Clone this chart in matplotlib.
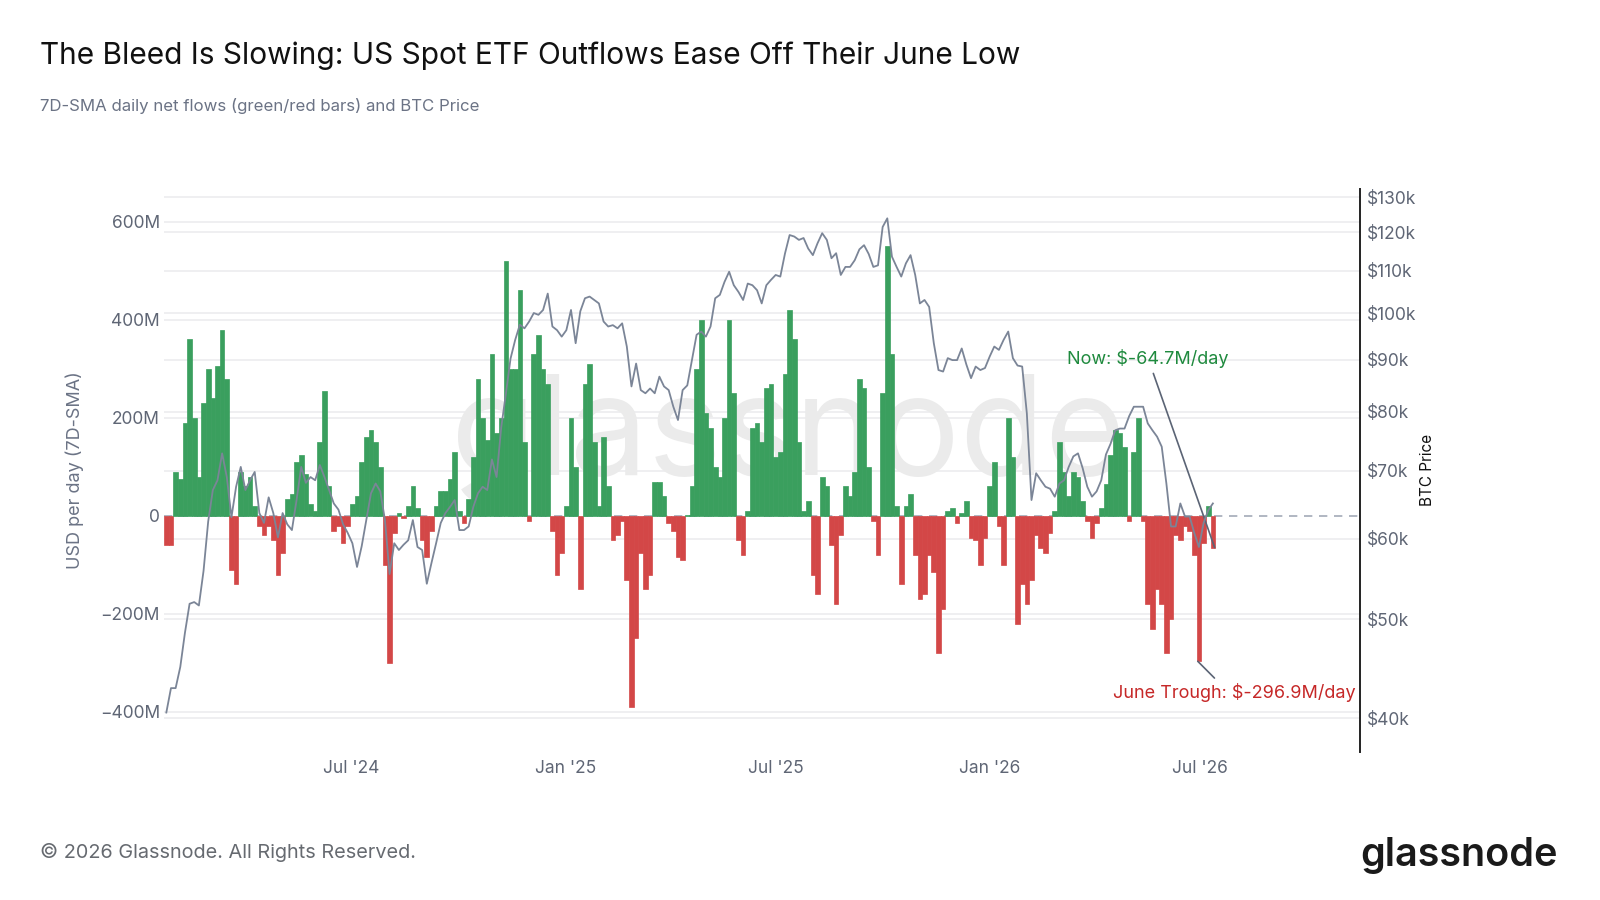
import matplotlib
matplotlib.use("Agg")
import matplotlib.pyplot as plt
import numpy as np
import pandas as pd
from matplotlib.lines import Line2D
from matplotlib.ticker import FixedLocator, NullLocator

# ---------------- data ----------------
START = "2024-01-22"
STEP_DAYS = 4

# 7D-SMA daily net flows, USD millions, one value per 4-day step
flows_m = [
    -60, -60, 90, 75, 190, 360, 200, 80, 230, 300, 240, 305, 380, 280, -110, -140,
    90, 60, 80, 20, -20, -40, -20, -50, -120, -75, 35, 45, 110, 125, 85, 25,
    10, 150, 255, 60, -30, -20, -55, -20, 25, 40, 110, 160, 175, 150, 100, -100,
    -300, -35, 5, -5, 20, 60, 15, -50, -85, -30, 20, 50, 50, 75, 130, 10,
    -15, 35, 120, 280, 200, 155, 330, 170, 200, 520, 300, 300, 460, 150, -10, 330,
    370, 300, 270, -30, -120, -75, 20, 200, 100, -150, 270, 310, 150, 20, 160, 60,
    -50, -40, -10, -130, -390, -250, -75, -150, -120, 70, 70, 40, -15, -30, -85, -90,
    2, 60, 300, 400, 210, 180, 100, 80, 200, 400, 250, -50, -80, 10, 180, 190,
    150, 260, 270, 120, 130, 290, 420, 360, 150, 10, 30, -120, -160, 80, 60, -60,
    -180, -40, 60, 40, 90, 280, 260, 100, -10, -80, 250, 550, 330, 20, -140, 20,
    45, -80, -170, -160, -80, -115, -280, -190, 10, 15, -15, 5, 30, -45, -50, -100,
    -45, 60, 110, -20, -100, 200, 120, -220, -140, -180, -130, -40, -65, -75, -35, 10,
    150, 90, 40, 90, 80, 30, -10, -45, -15, 15, 65, 125, 175, 170, 140, -10,
    130, 200, -10, -180, -230, -150, -180, -280, -210, -40, -50, -20, -30, -80, -296.9, -55,
    20, -64.7,
]

# BTC price, USD thousands, same 4-day steps
btc_price_k = [
    40.5, 42.8, 42.8, 44.9, 48.5, 51.8, 52.0, 51.6, 55.8, 62.4, 67.0, 68.5, 72.8, 69.0, 63.0, 67.5,
    70.6, 67.0, 68.5, 69.8, 63.6, 62.2, 65.9, 63.6, 60.2, 63.6, 62.0, 61.2, 65.5, 70.6, 68.1, 69.0,
    68.5, 70.9, 69.0, 67.0, 65.0, 64.1, 62.0, 60.8, 59.4, 56.3, 59.0, 62.6, 66.5, 68.0, 66.8, 62.6,
    55.4, 59.4, 58.5, 59.2, 59.8, 62.6, 58.9, 58.5, 54.2, 56.8, 59.4, 62.2, 63.6, 64.5, 65.5, 61.2,
    61.2, 61.7, 64.5, 66.5, 67.5, 67.0, 71.8, 69.0, 77.2, 83.3, 90.2, 94.1, 97.4, 96.6, 98.1, 100.0,
    99.6, 100.7, 104.5, 97.0, 96.2, 94.8, 96.2, 100.7, 93.4, 100.4, 103.4, 103.8, 103.0, 102.2, 98.1, 97.0,
    97.3, 96.6, 97.7, 92.7, 84.7, 89.2, 84.0, 83.4, 84.3, 83.4, 86.6, 84.7, 84.0, 80.9, 78.5, 84.0,
    84.9, 89.9, 95.2, 95.9, 94.8, 97.0, 103.4, 104.2, 107.3, 109.8, 106.5, 104.9, 103.0, 106.9, 106.5, 105.3,
    102.2, 106.5, 107.8, 109.0, 108.6, 114.4, 119.3, 118.9, 118.0, 118.5, 115.7, 114.0, 117.1, 119.8, 118.0, 113.2,
    114.5, 109.0, 111.0, 111.0, 112.7, 115.5, 116.6, 114.3, 111.0, 111.4, 121.5, 123.9, 113.6, 111.0, 108.6, 111.9,
    114.0, 109.0, 102.2, 103.0, 101.4, 93.4, 87.9, 87.6, 90.3, 89.9, 89.9, 92.3, 89.0, 86.3, 88.6, 87.9,
    88.3, 90.6, 92.7, 92.0, 94.1, 95.9, 90.3, 88.8, 88.6, 79.7, 65.5, 69.6, 68.5, 67.5, 67.2, 66.0,
    68.0, 68.5, 70.6, 72.3, 72.8, 70.4, 67.5, 66.0, 66.8, 68.5, 72.6, 74.4, 76.7, 77.0, 77.0, 79.2,
    80.9, 80.9, 80.9, 77.9, 76.7, 75.6, 73.9, 68.0, 61.7, 61.7, 65.0, 63.1, 63.1, 60.8, 58.9, 62.2,
    64.0, 65.0,
]

left_ticks = [-400, -200, 0, 200, 400, 600]
left_tick_labels = ["\u2212400M", "\u2212200M", "0", "200M", "400M", "600M"]
right_ticks = [40, 50, 60, 70, 80, 90, 100, 110, 120, 130]
right_tick_labels = ["$%dk" % p for p in right_ticks]
x_tick_dates = ["2024-07-01", "2025-01-01", "2025-07-01", "2026-01-01", "2026-07-01"]
x_tick_labels = ["Jul '24", "Jan '25", "Jul '25", "Jan '26", "Jul '26"]

now_label = "Now: $-64.7M/day"
trough_label = "June Trough: $-296.9M/day"
TROUGH_INDEX = 222

TITLE = "The Bleed Is Slowing: US Spot ETF Outflows Ease Off Their June Low"
SUBTITLE = "7D-SMA daily net flows (green/red bars) and BTC Price"
FOOTER = "\u00a9 2026 Glassnode. All Rights Reserved."

# ---------------- style ----------------
plt.rcParams["font.family"] = ["Inter", "DejaVu Sans"]
GREEN = "#3a9f5e"
RED = "#d34747"
PRICE = "#7b8597"
GRID = "#ebebee"
TICK = "#5f6675"

W, H = 1600, 900
fig = plt.figure(figsize=(16, 9), dpi=100)
fig.patch.set_facecolor("white")

L, R, T, B = 164, 1360, 189, 752
ax = fig.add_axes([L / W, 1 - B / H, (R - L) / W, (B - T) / H])
ax2 = ax.twinx()

dates = pd.date_range(START, periods=len(flows_m), freq=f"{STEP_DAYS}D")
flows = np.array(flows_m, dtype=float)
price = np.array(btc_price_k, dtype=float)

x_left = pd.Timestamp("2024-01-22")
x_right = pd.Timestamp("2026-11-15 12:00")
ax.set_xlim(x_left, x_right)
ax.set_ylim(-482, 667)
p_lo, p_hi = 37.04, 132.4
ax2.set_yscale("log")
ax2.set_ylim(p_lo, p_hi)

# grid lines (both axes) drawn behind the bars
for v in left_ticks:
    if v != 0:
        ax.axhline(v, color=GRID, lw=1.1, zorder=0)
for p in right_ticks:
    f = (np.log(p) - np.log(p_lo)) / (np.log(p_hi) - np.log(p_lo))
    ax.add_line(Line2D([0, 1], [f, f], transform=ax.transAxes, color=GRID, lw=1.1, zorder=0))
ax.axhline(0, color="#a3aab8", lw=1.2, ls=(0, (5, 4)), zorder=1)

# watermark
ax.text(0.522, 0.555, "glassnode", transform=ax.transAxes, fontsize=100,
        color="#ebebeb", ha="center", va="center", zorder=0.5)

# bars
colors = [GREEN if v >= 0 else RED for v in flows]
ax.bar(dates, flows, width=STEP_DAYS, align="edge", color=colors,
       edgecolor=colors, linewidth=0.5, zorder=3)

# price line
ax2.plot(dates + pd.Timedelta(days=STEP_DAYS / 2), price, color=PRICE, lw=1.3, zorder=4)

# axes cosmetics
for s in ax.spines.values():
    s.set_visible(False)
for name, s in ax2.spines.items():
    s.set_visible(name == "right")
ax2.spines["right"].set_color("#222222")
ax2.spines["right"].set_linewidth(1.4)

ax.yaxis.set_major_locator(FixedLocator(left_ticks))
ax.set_yticklabels(left_tick_labels)
ax.tick_params(axis="y", length=0, pad=3, labelsize=12.5, labelcolor=TICK)

ax2.yaxis.set_major_locator(FixedLocator(right_ticks))
ax2.yaxis.set_minor_locator(NullLocator())
ax2.set_yticklabels(right_tick_labels)
ax2.tick_params(axis="y", length=0, pad=5, labelsize=12.5, labelcolor=TICK)

ax.set_xticks(pd.to_datetime(x_tick_dates))
ax.set_xticklabels(x_tick_labels)
ax.tick_params(axis="x", length=0, pad=6, labelsize=12.5, labelcolor=TICK)

# annotations
ax.annotate(now_label, xy=(dates[-1] + pd.Timedelta(days=3.5), flows[-1]),
            xytext=(-148, 189), textcoords="offset pixels", ha="left", va="center",
            fontsize=13, color="#1f8a3e", annotation_clip=False, zorder=6,
            arrowprops=dict(arrowstyle="-", color="#5b6475", lw=1.2,
                            relpos=(0.525, 0.0), shrinkA=2, shrinkB=0))
ax.annotate(trough_label, xy=(dates[TROUGH_INDEX] + pd.Timedelta(days=1), flows[TROUGH_INDEX]),
            xytext=(158, -31), textcoords="offset pixels", ha="right", va="center",
            fontsize=13, color="#c62828", annotation_clip=False, zorder=6,
            arrowprops=dict(arrowstyle="-", color="#5b6475", lw=1.2,
                            relpos=(0.437, 1.0), shrinkA=2, shrinkB=0))

# texts
fig.text(40 / W, 1 - 56 / H, TITLE, fontsize=21.5, color="#111111", ha="left", va="center")
fig.text(40 / W, 1 - 106 / H, SUBTITLE, fontsize=12.1, color="#6b7385", ha="left", va="center")
fig.text(75 / W, 1 - 470 / H, "USD per day (7D-SMA)", rotation=90, fontsize=13,
         color="#6b7385", ha="center", va="center")
fig.text(1427 / W, 1 - 470 / H, "BTC Price", rotation=90, fontsize=11,
         color="#111111", ha="center", va="center")
fig.text(40 / W, 1 - 852 / H, FOOTER, fontsize=14.3, color="#666a70", ha="left", va="center")
fig.text(1558 / W, 1 - 855 / H, "glassnode", fontsize=28.5, fontweight="semibold",
         color="#1a1a1a", ha="right", va="center")

fig.savefig("out.png", dpi=100, facecolor="white")
